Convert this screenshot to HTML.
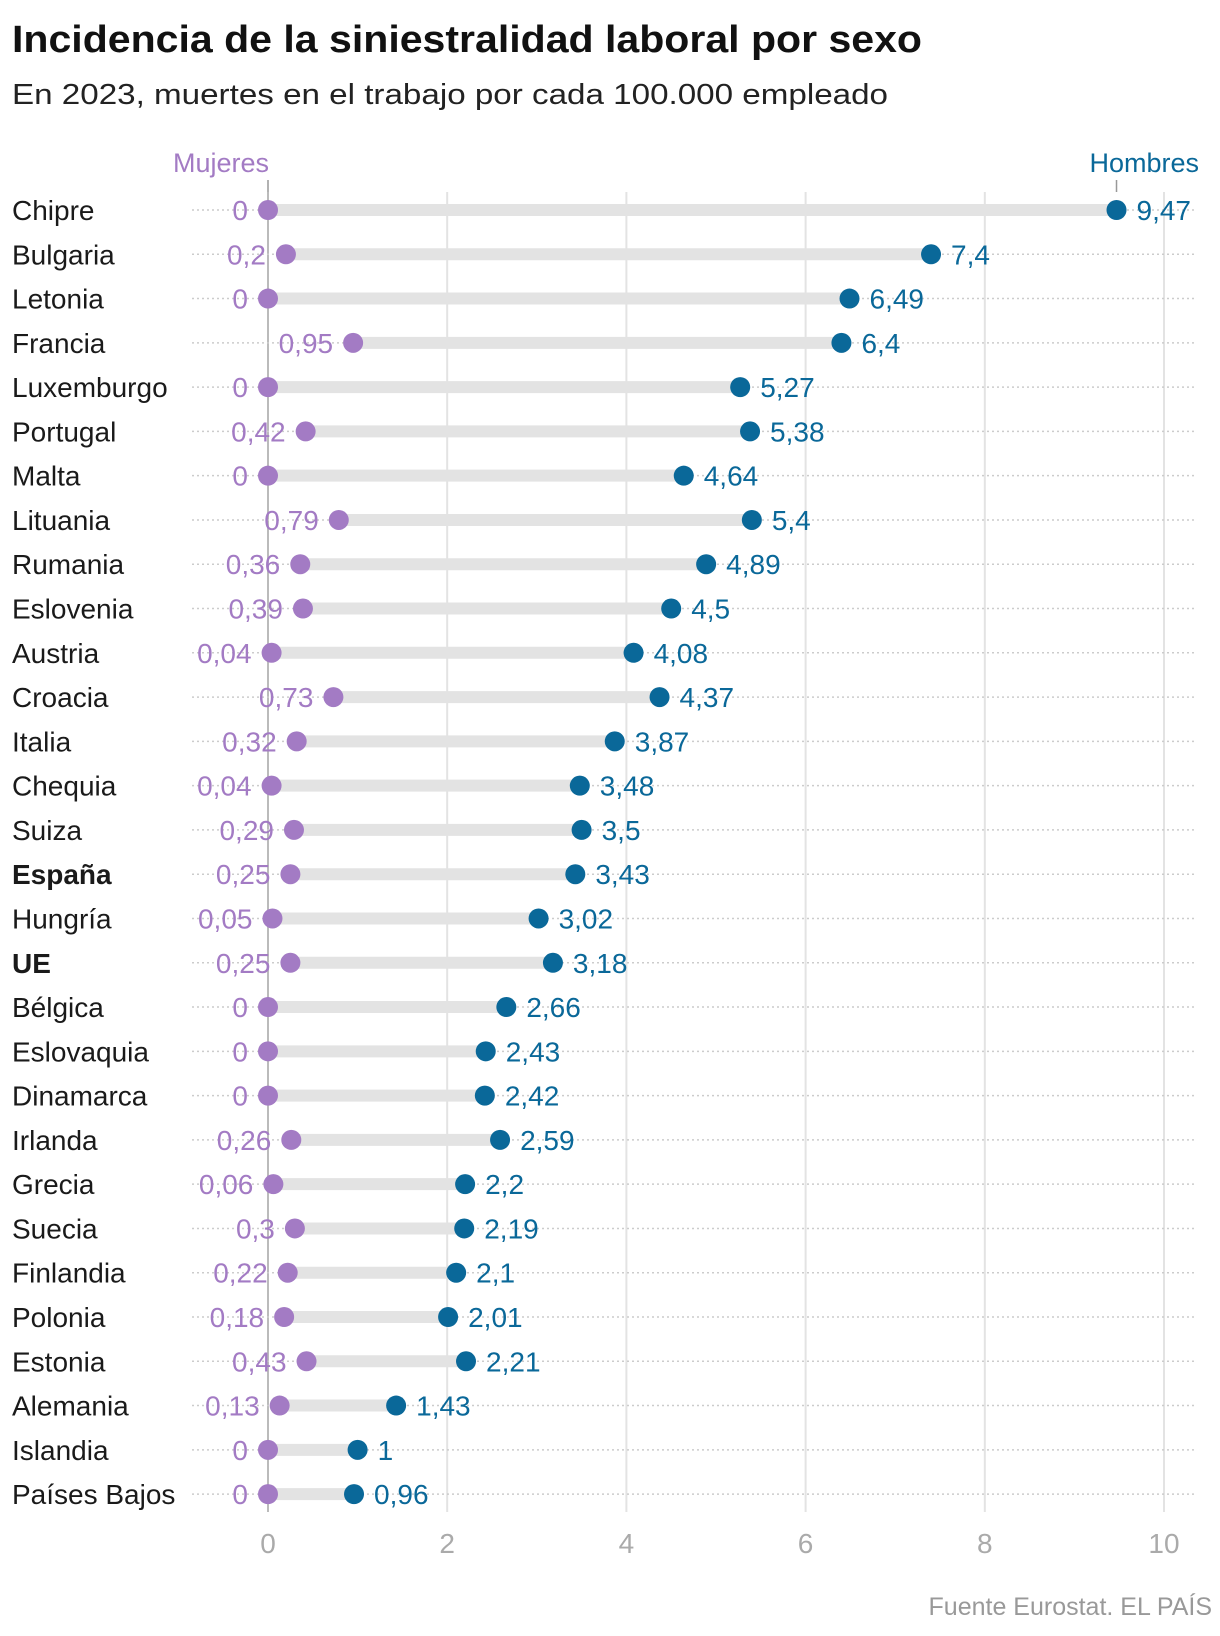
<!DOCTYPE html>
<html><head><meta charset="utf-8"><style>
body{margin:0;background:#fff}
svg{display:block;font-family:"Liberation Sans",sans-serif}
</style></head><body>
<svg id="c" width="1220" height="1636" viewBox="0 0 1220 1636">
<text x="12" y="52" font-size="38" font-weight="bold" fill="#111" textLength="910" lengthAdjust="spacingAndGlyphs">Incidencia de la siniestralidad laboral por sexo</text>
<text x="12" y="104" font-size="29" fill="#222" textLength="876" lengthAdjust="spacingAndGlyphs">En 2023, muertes en el trabajo por cada 100.000 empleado</text>
<text x="1212" y="1615" font-size="25" fill="#999" text-anchor="end">Fuente Eurostat. EL PAÍS</text>
<g id="grid"></g><g id="rows"></g>
</svg>
<script>
const countries=["Chipre","Bulgaria","Letonia","Francia","Luxemburgo","Portugal","Malta","Lituania","Rumania","Eslovenia","Austria","Croacia","Italia","Chequia","Suiza","España","Hungría","UE","Bélgica","Eslovaquia","Dinamarca","Irlanda","Grecia","Suecia","Finlandia","Polonia","Estonia","Alemania","Islandia","Países Bajos"];
const women=[0,0.2,0,0.95,0,0.42,0,0.79,0.36,0.39,0.04,0.73,0.32,0.04,0.29,0.25,0.05,0.25,0,0,0,0.26,0.06,0.3,0.22,0.18,0.43,0.13,0,0];
const men=[9.47,7.4,6.49,6.4,5.27,5.38,4.64,5.4,4.89,4.5,4.08,4.37,3.87,3.48,3.5,3.43,3.02,3.18,2.66,2.43,2.42,2.59,2.2,2.19,2.1,2.01,2.21,1.43,1,0.96];
const ticks=[0,2,4,6,8,10];
const NS="http://www.w3.org/2000/svg";
const x=v=>268+v*89.6, y=i=>210+i*44.28;
const fmt=v=>String(v).replace('.',',');
function mk(p,t,a,txt){const e=document.createElementNS(NS,t);for(const k in a)e.setAttribute(k,a[k]);if(txt!==undefined)e.textContent=txt;p.appendChild(e);return e;}
const g=document.getElementById('grid'), r=document.getElementById('rows');
ticks.forEach(t=>{
 const l=mk(g,'line',{x1:x(t),x2:x(t),y1:192,y2:1512,stroke:t===0?'#bbb':'#e3e3e3','stroke-width':2});
 
 
 const tx=mk(g,'text',{x:x(t),y:1553,'font-size':28,fill:'#aaa','text-anchor':'middle'},String(t));
 
 
});
const mu=mk(g,'text',{x:x(0)+1,y:172,'font-size':27,fill:'#a37bc4','text-anchor':'end'},'Mujeres');


const ho=mk(g,'text',{x:1199,y:172,'font-size':27,fill:'#0a6899','text-anchor':'end'},'Hombres');


mk(g,'line',{x1:x(0),x2:x(0),y1:180,y2:192,stroke:'#999','stroke-width':1.5});
mk(g,'line',{x1:x(men[0]),x2:x(men[0]),y1:180,y2:192,stroke:'#999','stroke-width':1.5});
countries.forEach((c,i)=>{
 const yy=y(i);
 const bold=(c==='España'||c==='UE');
 const lab=mk(r,'text',{x:12,y:yy+10,'font-size':28,fill:'#1a1a1a','font-weight':bold?'bold':'normal'},c);
 
 
 mk(r,'line',{x1:192,x2:1194,y1:yy,y2:yy,stroke:'#ccc','stroke-width':1.5,'stroke-dasharray':'2 3'});
 const b=mk(r,'line',{x1:x(women[i]),x2:x(men[i]),y1:yy,y2:yy,stroke:'#e3e3e3','stroke-width':12});
 
 
 const dw=mk(r,'circle',{cx:x(women[i]),cy:yy,r:10,fill:'#a37bc4'});
 
 
 const dm=mk(r,'circle',{cx:x(men[i]),cy:yy,r:10,fill:'#0a6899'});
 
 
 const tw=mk(r,'text',{x:x(women[i])-20,y:yy+10,'font-size':28,fill:'#a37bc4','text-anchor':'end'},fmt(women[i]));
 
 
 const tm=mk(r,'text',{x:x(men[i])+20,y:yy+10,'font-size':28,fill:'#0a6899'},fmt(men[i]));
 
 
});
</script>
</body></html>
